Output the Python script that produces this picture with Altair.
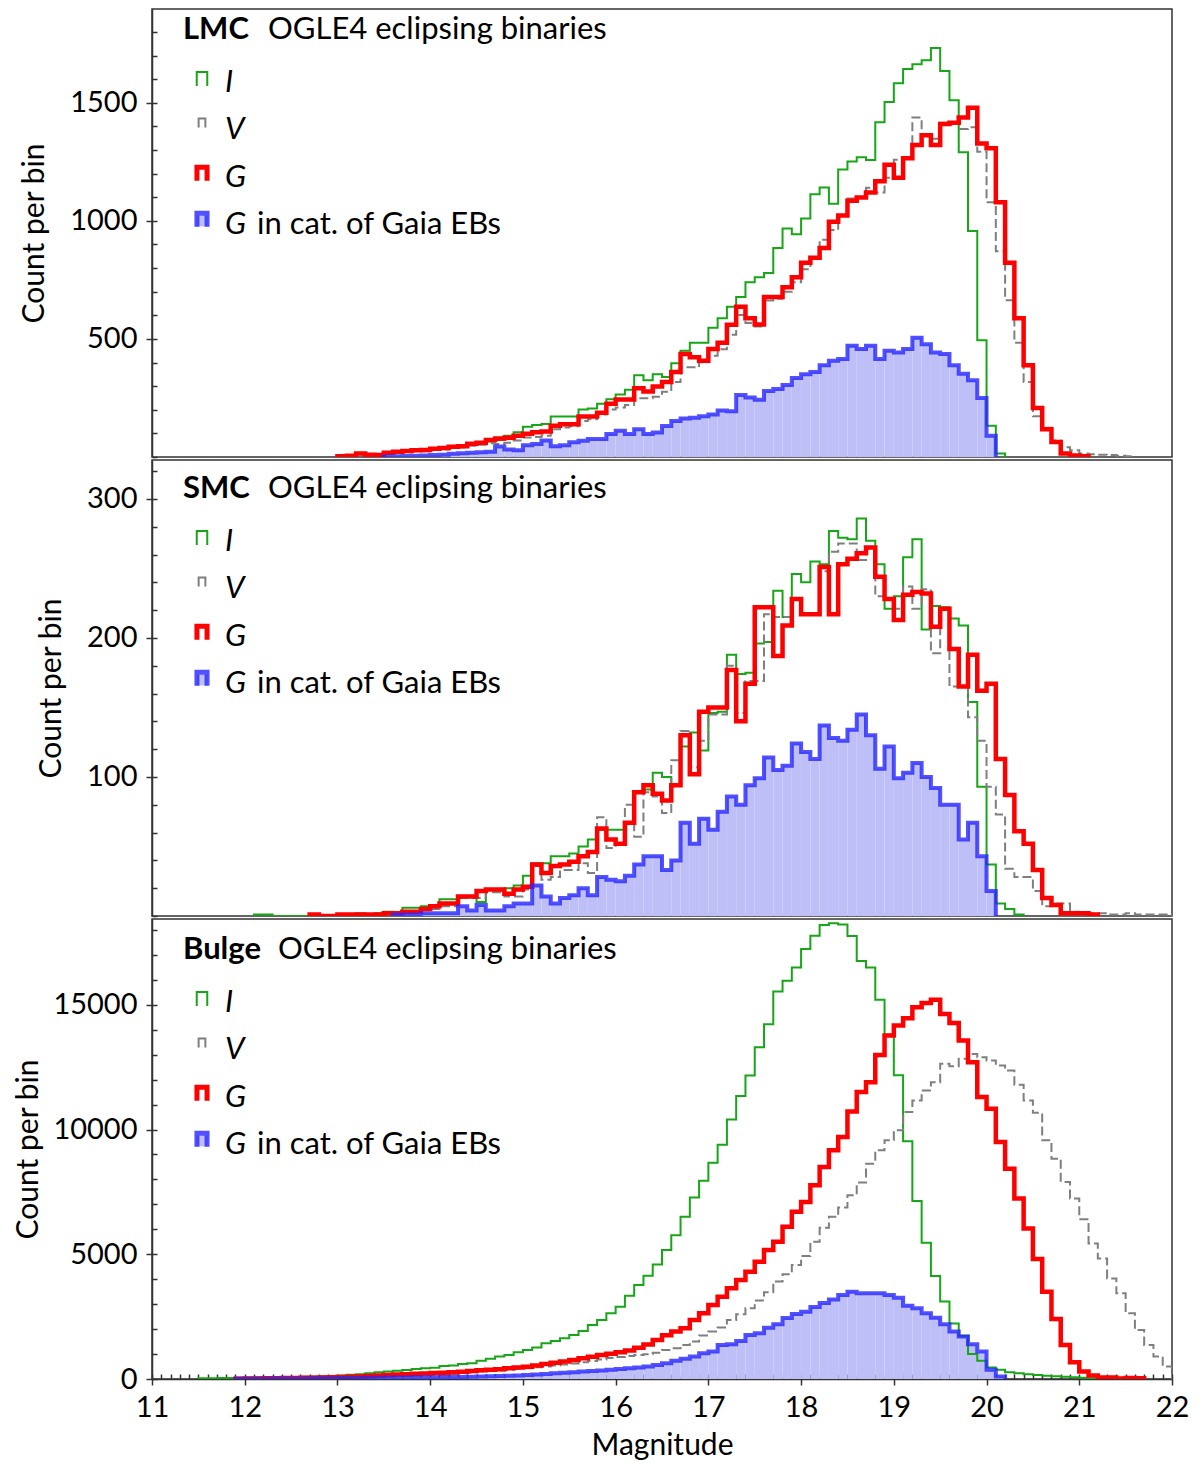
import altair as alt
import pandas as pd

FONT = "Lato"
BIN = 0.1
XMIN, XMAX = 11, 22

GREEN = "#17a617"
GREY = "#7f7f7f"
RED = "#ff0000"
BLUE = "#2626ff"
FILL = "#bfbff7"

# ---------------- LMC: counts per 0.1 mag bin ----------------
lmc_i_start = 13.0
lmc_i = [3, 8, 12, 10, 8, 15, 20, 22, 25, 24,
         35, 38, 45, 42, 55, 57, 66, 72, 90, 105,
         128, 135, 140, 171, 171, 171, 201, 205, 225, 245,
         265, 285, 346, 325, 350, 339, 397, 450, 484, 484,
         547, 588, 636, 678, 740, 761, 779, 885, 968, 943,
         1010, 1113, 1141, 1072, 1217, 1251, 1269, 1258, 1417, 1503,
         1583, 1643, 1663, 1680, 1732, 1634, 1511, 1290, 957, 494,
         132, 15]

lmc_v_start = 13.0
lmc_v = [2, 4, 10, 8, 6, 14, 18, 20, 24, 26,
         30, 32, 38, 40, 48, 52, 58, 55, 60, 70,
         83, 85, 90, 118, 125, 130, 152, 160, 180, 201,
         210, 220, 249, 249, 255, 276, 318, 380, 380, 401,
         429, 456, 518, 601, 567, 553, 663, 670, 700, 740,
         795, 841, 920, 961, 1023, 1095, 1099, 1140, 1120, 1182,
         1259, 1265, 1438, 1362, 1348, 1415, 1410, 1389, 1396, 1293,
         1079, 871, 664, 484, 318, 173, 124, 70, 41, 29,
         15, 12, 10, 8, 5, 3]

lmc_g_start = 13.0
lmc_g = [3, 5, 15, 10, 8, 18, 22, 25, 29, 30,
         35, 38, 43, 45, 56, 60, 72, 78, 82, 90,
         98, 105, 108, 132, 139, 139, 171, 171, 187, 226,
         243, 243, 291, 277, 298, 318, 360, 436, 422, 408,
         457, 484, 560, 636, 588, 561, 678, 678, 719, 761,
         823, 844, 885, 996, 1023, 1085, 1099, 1120, 1168, 1238,
         1182, 1265, 1321, 1362, 1321, 1410, 1415, 1438, 1479, 1328,
         1307, 1079, 823, 588, 388, 208, 118, 63, 15, 6,
         3]

lmc_gaia_start = 13.5
lmc_gaia = [2, 3, 4, 5, 6,
            8, 10, 14, 16, 18, 20, 22, 44, 32, 29,
            50, 55, 70, 45, 50, 62, 69, 76, 76, 97,
            111, 97, 118, 97, 104, 131, 152, 163, 166, 173,
            180, 197, 194, 263, 252, 242, 279, 288, 305, 335,
            350, 360, 388, 408, 415, 471, 457, 471, 415, 450,
            443, 457, 505, 477, 443, 436, 388, 353, 325, 250,
            90]

# ---------------- SMC ----------------
smc_i_start = 12.1
smc_i = [1, 1, 0, 0, 0, 0, 0, 0, 0,
         1, 1, 2, 1, 2, 3, 2, 6, 6, 7,
         7, 12, 12, 14, 14, 10, 19, 19, 20, 22,
         29, 38, 38, 43, 43, 45, 50, 55, 62, 62,
         62, 67, 90, 91, 103, 100, 95, 122, 132, 119,
         146, 147, 188, 174, 175, 196, 197, 234, 215, 246,
         240, 255, 253, 277, 272, 271, 286, 270, 253, 221,
         230, 258, 271, 206, 223, 222, 214, 209, 154, 93,
         37, 9, 5, 1]

smc_v_start = 13.1
smc_v = [1, 1, 1, 1, 1, 2, 2, 3, 5,
         5, 7, 7, 13, 13, 13, 17, 17, 14, 14,
         19, 36, 26, 28, 33, 33, 38, 31, 71, 49,
         52, 80, 57, 89, 86, 74, 112, 133, 107, 126,
         145, 145, 180, 146, 169, 169, 217, 215, 215, 228,
         217, 217, 248, 262, 268, 268, 256, 264, 230, 228,
         221, 237, 221, 235, 189, 221, 165, 165, 143, 126,
         93, 73, 34, 28, 28, 18, 7, 9, 9, 3,
         2, 2, 2, 1, 1, 2, 1, 1, 1, 1]

smc_g_start = 12.7
smc_g = [1, 0, 0,
         1, 1, 1, 1, 1, 2, 2, 3, 3, 5,
         7, 9, 9, 14, 14, 18, 19, 19, 16, 19,
         21, 37, 31, 36, 37, 39, 43, 46, 63, 55,
         52, 67, 89, 94, 88, 83, 94, 130, 102, 147,
         150, 150, 177, 140, 167, 222, 222, 187, 209, 228,
         217, 217, 251, 217, 253, 257, 261, 265, 244, 228,
         213, 231, 233, 232, 208, 221, 192, 165, 188, 162,
         167, 113, 87, 61, 52, 33, 13, 8, 2, 2,
         2, 1]

smc_gaia_start = 13.6
smc_gaia = [1, 1, 1, 2,
            2, 2, 2, 7, 4, 8, 4, 4, 7, 9,
            9, 22, 14, 9, 13, 15, 20, 15, 28, 26,
            25, 29, 37, 43, 43, 33, 40, 67, 52, 70,
            62, 75, 86, 80, 94, 99, 114, 105, 108, 124,
            118, 113, 137, 128, 126, 134, 145, 130, 106, 122,
            99, 103, 110, 100, 92, 80, 80, 55, 67, 43,
            18]

# ---------------- Bulge ----------------
bulge_i_start = 11.5
bulge_i = [30, 30, 40, 40, 50,
           50, 60, 60, 70, 70, 80, 90, 100, 110, 120,
           140, 170, 190, 230, 270, 300, 330, 360, 400, 433,
           450, 520, 540, 600, 633, 727, 807, 900, 967, 1073,
           1167, 1260, 1433, 1527, 1633, 1767, 1927, 2167, 2367, 2633,
           2900, 3340, 3767, 4140, 4593, 5167, 5767, 6500, 7280, 7950,
           8673, 9393, 10407, 11340, 12167, 13300, 14224, 15532, 15960, 16492,
           17240, 17772, 18200, 18265, 18224, 17760, 16760, 16492, 15200, 13800,
           12172, 9532, 7132, 5465, 4132, 3105, 2225, 1732, 1000, 732,
           460, 367, 273, 233, 190, 160, 130, 110, 90, 70,
           50, 30, 20]

bulge_v_start = 11.9
bulge_v = [20,
           20, 25, 25, 30, 30, 35, 35, 40, 45, 50,
           55, 60, 70, 80, 90, 100, 110, 120, 135, 150,
           165, 180, 200, 230, 260, 300, 320, 340, 370, 400,
           430, 470, 500, 540, 580, 620, 670, 720, 780, 840,
           880, 920, 960, 993, 1050, 1167, 1233, 1367, 1500, 1740,
           1900, 2060, 2367, 2593, 2833, 3150, 3480, 3910, 4200, 4567,
           4930, 5500, 6067, 6500, 6870, 7367, 7873, 8633, 9167, 9567,
           9967, 10700, 11167, 11567, 11900, 12633, 12540, 12833, 13033, 12900,
           12767, 12567, 12367, 11793, 11167, 10673, 9567, 8833, 7900, 7233,
           6407, 5433, 4833, 4033, 3433, 2633, 1967, 1367, 900, 500]

bulge_g_start = 11.9
bulge_g = [15,
           20, 25, 30, 35, 40, 45, 50, 55, 60, 70,
           80, 90, 100, 120, 140, 160, 180, 195, 210, 225,
           240, 255, 270, 290, 320, 350, 370, 390, 430, 460,
           490, 540, 600, 650, 700, 760, 830, 890, 960, 1010,
           1070, 1140, 1250, 1380, 1560, 1750, 1900, 2033, 2367, 2633,
           2967, 3300, 3633, 3967, 4300, 4700, 5167, 5500, 6100, 6700,
           7100, 7767, 8500, 9167, 9700, 10727, 11500, 11900, 12993, 13767,
           14167, 14460, 14900, 15073, 15207, 14633, 14273, 13567, 12700, 11300,
           10833, 9500, 8433, 7233, 6033, 4807, 3500, 2407, 1367, 673,
           300, 140, 60, 60, 20, 40, 30]

bulge_gaia_start = 11.9
bulge_gaia = [10,
              12, 14, 15, 18, 20, 22, 25, 28, 30, 33,
              36, 40, 44, 48, 52, 56, 60, 64, 68, 70,
              72, 76, 80, 85, 92, 100, 108, 116, 126, 140,
              160, 180, 205, 233, 250, 270, 300, 320, 345, 367,
              400, 433, 466, 500, 560, 633, 727, 807, 900, 1033,
              1100, 1367, 1393, 1527, 1767, 1833, 2050, 2190, 2450, 2610,
              2700, 2890, 3050, 3190, 3370, 3500, 3433, 3433, 3433, 3367,
              3260, 2940, 2833, 2633, 2460, 2193, 1900, 1700, 1393, 1100,
              367, 100]

title_rest = "OGLE4 eclipsing binaries"
legend_keys = ["I", "V", "G", "G"]
legend_rest = ["", "", "", "in cat. of Gaia EBs"]

PANELS = [
    dict(name="LMC", series=[(lmc_i_start, lmc_i), (lmc_v_start, lmc_v),
                             (lmc_g_start, lmc_g), (lmc_gaia_start, lmc_gaia)],
         ytop=1897, major=[500, 1000, 1500], minor=list(range(0, 1900, 100)),
         height=448, shift=-7, tpad=20, rest_x=116),
    dict(name="SMC", series=[(smc_i_start, smc_i), (smc_v_start, smc_v),
                             (smc_g_start, smc_g), (smc_gaia_start, smc_gaia)],
         ytop=328, major=[100, 200, 300], minor=list(range(0, 330, 20)),
         height=456, shift=1, tpad=20, rest_x=116),
    dict(name="Bulge", series=[(bulge_i_start, bulge_i), (bulge_v_start, bulge_v),
                               (bulge_g_start, bulge_g), (bulge_gaia_start, bulge_gaia)],
         ytop=18440, major=[0, 5000, 10000, 15000], minor=list(range(0, 18001, 1000)),
         height=460, shift=3, tpad=9, rest_x=126),
]

WIDTH = 1020


def outline(start, counts):
    # step-histogram outline: rise at the first edge, one point per bin, drop at the last edge
    rows = [{"mag": start, "count": 0, "k": 0}]
    for k, c in enumerate(counts):
        rows.append({"mag": round(start + k * BIN, 2), "count": c, "k": k + 1})
    rows.append({"mag": round(start + len(counts) * BIN, 2), "count": 0, "k": len(counts) + 1})
    return pd.DataFrame(rows)


def text_at(text, x, y, size=31, **kw):
    return alt.Chart(pd.DataFrame({"t": [text]})).mark_text(
        align="left", baseline="alphabetic", font=FONT, fontSize=size, color="black", **kw
    ).encode(text="t:N", x=alt.value(x), y=alt.value(y))


def symbol_at(x, y, size, color, width, opacity=1.0):
    return alt.Chart(pd.DataFrame({"s": [0]})).mark_point(
        shape="M -0.75 1 L -0.75 -1 L 0.75 -1 L 0.75 1", filled=False,
        size=size, color=color, strokeWidth=width, opacity=opacity
    ).encode(x=alt.value(x), y=alt.value(y))


def make_panel(p, bottom):
    xs = alt.Scale(domain=[XMIN, XMAX], nice=False, zero=False)
    ys = alt.Scale(domain=[0, p["ytop"]], nice=False, zero=False)
    (i0, ic), (v0, vc), (g0, gc), (b0, bc) = p["series"]
    df_i, df_v, df_g, df_b = outline(i0, ic), outline(v0, vc), outline(g0, gc), outline(b0, bc)

    if bottom:
        x_major = alt.Axis(orient="bottom", values=list(range(XMIN, XMAX + 1)), format="d",
                           title="Magnitude", tickSize=6, labelPadding=8,
                           labelFlush=False, labelOverlap=False, titlePadding=8)
        x_minor = alt.Axis(orient="bottom", values=[round(XMIN + k * BIN, 1) for k in range(111)],
                           offset=-5, tickSize=5, labels=False, domain=False, title=None)
    else:
        x_major = None
        x_minor = None

    y_major = alt.Axis(orient="left", values=p["major"], format="d", title="Count per bin",
                       tickSize=6, labelPadding=9, titlePadding=p["tpad"], labelOverlap=False)
    y_minor = alt.Axis(orient="left", values=p["minor"], offset=-5, tickSize=5,
                       labels=False, domain=False, title=None)

    def enc(ch, xa=None, ya=None):
        return ch.encode(
            x=alt.X("mag:Q", scale=xs, axis=xa),
            y=alt.Y("count:Q", scale=ys, axis=ya),
            order=alt.Order("k:Q"),
        )

    fill = enc(alt.Chart(df_b).mark_area(interpolate="step-after", color=FILL, clip=True),
               x_major, y_major)
    ticks = enc(alt.Chart(df_b).mark_line(opacity=0), x_minor, y_minor)
    line_i = enc(alt.Chart(df_i).mark_line(interpolate="step-after", color=GREEN,
                                           strokeWidth=2, clip=True))
    line_v = enc(alt.Chart(df_v).mark_line(interpolate="step-after", color=GREY,
                                           strokeWidth=2, strokeDash=[9, 4], clip=True))
    line_g = enc(alt.Chart(df_g).mark_line(interpolate="step-after", color=RED,
                                           strokeWidth=4.5, clip=True))
    line_b = enc(alt.Chart(df_b).mark_line(interpolate="step-after", color=BLUE,
                                           strokeWidth=4, opacity=0.8, clip=True))

    s = p["shift"]
    deco = [
        text_at(p["name"], 31, 37 + s, fontWeight="bold"),
        text_at(title_rest, p["rest_x"], 37 + s),
        symbol_at(50, 77 + s, 196, GREEN, 2),
        symbol_at(50, 121 + s, 81, GREY, 2),
        symbol_at(50, 172 + s, 182, RED, 5),
        alt.Chart(pd.DataFrame({"s": [0]})).mark_square(size=120, color=FILL, opacity=1)
        .encode(x=alt.value(50), y=alt.value(219 + s)),
        symbol_at(50, 218 + s, 182, BLUE, 5, opacity=0.8),
    ]
    baselines = [90, 137, 185, 232]
    for key, rest, yb in zip(legend_keys, legend_rest, baselines):
        deco.append(text_at(key, 73, yb + s, fontStyle="italic"))
        if rest:
            deco.append(text_at(rest, 105, yb + s))

    return alt.layer(fill, ticks, line_i, line_v, line_g, line_b, *deco).resolve_axis(
        x="independent", y="independent"
    ).properties(width=WIDTH, height=p["height"])


panels = [make_panel(p, i == len(PANELS) - 1) for i, p in enumerate(PANELS)]

chart = alt.vconcat(*panels, spacing=0).properties(
    padding={"left": 5, "top": 0, "right": 0, "bottom": 0},
    background="white",
).configure_view(
    stroke="#333333", strokeWidth=1.5
).configure_axis(
    labelFont=FONT, labelFontSize=29, labelColor="black",
    titleFont=FONT, titleFontSize=30, titleFontWeight="normal", titleColor="black",
    domainColor="#333333", domainWidth=1.5, tickColor="#333333", tickWidth=1.5,
    grid=False,
)

chart.save("out.html", embed_options={"renderer": "svg", "actions": False})
